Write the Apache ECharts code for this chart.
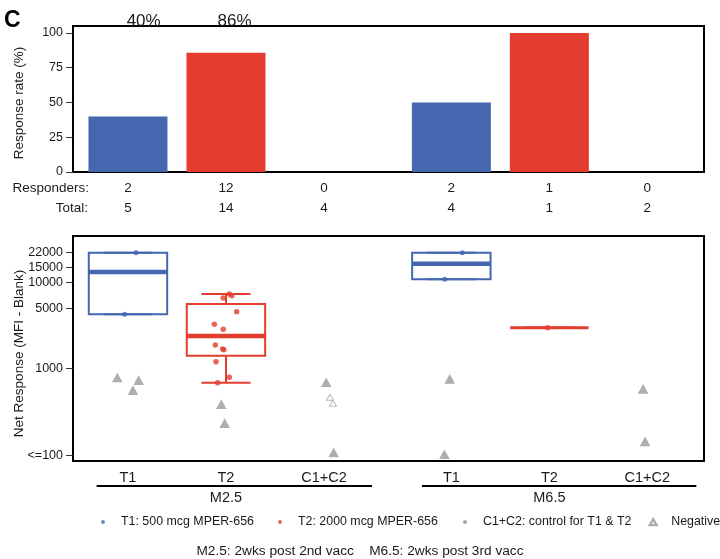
<!DOCTYPE html>
<html><head><meta charset="utf-8">
<script src="https://cdn.jsdelivr.net/npm/echarts@6/dist/echarts.min.js"></script>
<style>html,body{margin:0;padding:0;background:#fff}#c{width:720px;height:559px}</style>
</head><body><div id="c"></div>
<script>
// ---------------- data ----------------
const categories = ['T1', 'T2', 'C1+C2', 'T1', 'T2', 'C1+C2'];
const catPos = [1, 2, 3, 4.3, 5.3, 6.3];
const groupNames = ['M2.5', 'M6.5'];
const groupPos = [2, 5.3];
const groupSpan = [[0.68, 3.49], [4.0, 6.8]];
const responders = [2, 12, 0, 2, 1, 0];
const totals = [5, 14, 4, 4, 1, 2];
const pctLabels = ['40%', '86%'];
const pctPos = [1.16, 2.087];
const catColorKey = [0, 1, 2, 0, 1, 2];
const rateTicks = [0, 25, 50, 75, 100];
const mfiTicks = [100, 1000, 5000, 10000, 15000, 22000];
const mfiTickLabels = ['<=100', '1000', '5000', '10000', '15000', '22000'];
const mfiRange = [85.5, 34360];
// box stats: min, q1, median, q3, max
const boxX = [1, 2, 4.3, 5.3];
const boxStats = [
  [4265, 4265, 13130, 22000, 22000],
  [690, 1414, 2390, 5610, 7330],
  [10840, 10840, 16420, 22000, 22000],
  [2980, 2980, 2980, 2980, 2980]
];
const boxColorKey = [0, 1, 0, 1];
const t1Points = [[1.082, 22000], [0.966, 4265], [4.412, 22000], [4.232, 10840]];
const t2Points = [[2.034, 7330], [2.060, 7000], [1.972, 6600], [2.109, 4570], [1.881, 3265],
  [1.972, 2860], [1.891, 1880], [1.966, 1690], [1.978, 1660], [1.898, 1205], [2.034, 795],
  [1.915, 690], [5.283, 2980]];
const negPoints = [[0.891, 774], [1.109, 721], [1.051, 552], [1.952, 380], [1.987, 229],
  [3.023, 682], [3.099, 105], [4.283, 746], [4.229, 100], [6.256, 571], [6.277, 141]];
const negOpenPoints = [[3.061, 467], [3.092, 398]];
const legendNames = ['T1: 500 mcg MPER-656', 'T2: 2000 mcg MPER-656', 'C1+C2: control for T1 & T2', 'Negative'];
const captionText = 'M2.5: 2wks post 2nd vacc    M6.5: 2wks post 3rd vacc';

// ---------------- styles ----------------
const COLORS = ['#4467B0', '#E23D2E', '#8c8c8c'];
const GREY = '#9a9a9a';
const FONT = 'Liberation Sans, Arial, Helvetica, sans-serif';
const TXT = '#1a1a1a';
const X_MIN = 0.439, X_MAX = 6.878;
const lg = Math.log10;
const near = (arr, v) => arr.findIndex(p => Math.abs(p - v) < 1e-6);
const yMinL = lg(mfiRange[0]), yMaxL = lg(mfiRange[1]);
const legendLeft = [99, 276, 461, 648];

const chart = echarts.init(document.getElementById('c'), null, {renderer: 'canvas'});

const baseX = (grid) => ({
  type: 'value', gridIndex: grid, min: X_MIN, max: X_MAX,
  axisLine: {show: false, onZero: false}, axisTick: {show: false}, splitLine: {show: false}
});

const option = {
  backgroundColor: '#fff',
  animation: false,
  textStyle: {fontFamily: FONT, color: TXT},
  title: [
    {text: 'C', left: 4, top: 9, padding: 0,
      textStyle: {fontFamily: FONT, fontSize: 23, fontWeight: 'bold', color: '#000'}},
    {text: captionText, left: 'center', top: 544, padding: 0,
      textStyle: {fontFamily: FONT, fontSize: 13.7, fontWeight: 'normal', color: TXT}}
  ],
  legend: legendNames.map((n, i) => ({
    data: [{
      name: n,
      icon: i < 3 ? 'path://M0,0M10,10M5,2.5L6.8,3.2L7.5,5L6.8,6.8L5,7.5L3.2,6.8L2.5,5L3.2,3.2Z'
                  : 'path://M0,0M10,10M5,1.5L9.2,8.8L0.8,8.8Z',
      itemStyle: i < 3 ? {color: COLORS[i], borderWidth: 0}
                       : {color: '#fff', borderColor: GREY, borderWidth: 2.4}
    }],
    left: legendLeft[i], top: 516, padding: 0,
    itemWidth: 26, itemHeight: 8,
    selectedMode: false,
    textStyle: {fontFamily: FONT, fontSize: 12.4, color: TXT}
  })),
  grid: [
    {left: 73, top: 26, width: 631, height: 146, show: true, borderColor: '#000', borderWidth: 2,
      containLabel: false, outerBoundsMode: 'none'},
    {left: 73, top: 236, width: 631, height: 225, show: true, borderColor: '#000', borderWidth: 2,
      containLabel: false, outerBoundsMode: 'none'}
  ],
  xAxis: [
    // 0: responders row
    Object.assign(baseX(0), {
      position: 'bottom', offset: 16,
      axisLabel: {customValues: catPos, margin: 0, verticalAlign: 'middle', fontSize: 13.5, color: TXT, fontFamily: FONT,
        formatter: v => String(responders[near(catPos, v)])},
      name: 'Responders:', nameLocation: 'start', nameGap: -16, nameMoveOverlap: false,
      nameTextStyle: {fontSize: 13.5, color: TXT, fontFamily: FONT, align: 'right', verticalAlign: 'middle'}
    }),
    // 1: totals row
    Object.assign(baseX(0), {
      position: 'bottom', offset: 36,
      axisLabel: {customValues: catPos, margin: 0, verticalAlign: 'middle', fontSize: 13.5, color: TXT, fontFamily: FONT,
        formatter: v => String(totals[near(catPos, v)])},
      name: 'Total:', nameLocation: 'start', nameGap: -15, nameMoveOverlap: false,
      nameTextStyle: {fontSize: 13.5, color: TXT, fontFamily: FONT, align: 'right', verticalAlign: 'middle'}
    }),
    // 2: percent labels on top
    Object.assign(baseX(0), {
      position: 'top',
      axisLabel: {customValues: pctPos, margin: -4, verticalAlign: 'bottom', fontSize: 17, color: TXT, fontFamily: FONT,
        formatter: v => pctLabels[near(pctPos, v)]}
    }),
    // 3: category labels bottom panel
    Object.assign(baseX(1), {
      position: 'bottom',
      axisLabel: {customValues: catPos, margin: 17, verticalAlign: 'middle', fontSize: 14.5, color: TXT, fontFamily: FONT,
        formatter: v => categories[near(catPos, v)]}
    }),
    // 4: group labels
    Object.assign(baseX(1), {
      position: 'bottom',
      axisLabel: {customValues: groupPos, margin: 37, verticalAlign: 'middle', fontSize: 14.5, color: TXT, fontFamily: FONT,
        formatter: v => groupNames[near(groupPos, v)]}
    })
  ],
  yAxis: [
    {
      type: 'value', gridIndex: 0, min: 0, max: 105,
      axisLine: {show: false, onZero: false},
      axisTick: {show: true, customValues: rateTicks, length: 7, lineStyle: {color: '#333', width: 1}},
      axisLabel: {customValues: rateTicks, margin: 10, fontSize: 12.5, color: TXT, fontFamily: FONT},
      splitLine: {show: false},
      name: 'Response rate (%)', nameLocation: 'middle', nameGap: 47, nameMoveOverlap: false,
      nameTextStyle: {fontSize: 13.5, color: TXT, fontFamily: FONT, padding: [0, 8, 0, 0]}
    },
    {
      type: 'value', gridIndex: 1, min: yMinL, max: yMaxL,
      axisLine: {show: false, onZero: false},
      axisTick: {show: true, customValues: mfiTicks.map(lg), length: 7, lineStyle: {color: '#333', width: 1}},
      axisLabel: {customValues: mfiTicks.map(lg), margin: 10, fontSize: 12.5, color: TXT, fontFamily: FONT,
        formatter: v => mfiTickLabels[near(mfiTicks.map(lg), v)]},
      splitLine: {show: false},
      name: 'Net Response (MFI - Blank)', nameLocation: 'middle', nameGap: 47, nameMoveOverlap: false,
      nameTextStyle: {fontSize: 13.5, color: TXT, fontFamily: FONT, padding: [0, 10, 0, 0]}
    }
  ],
  series: [
    {
      type: 'bar', xAxisIndex: 0, yAxisIndex: 0, barWidth: 79,
      data: catPos.map((x, i) => ({
        value: [x, totals[i] ? responders[i] / totals[i] * 100 : 0],
        itemStyle: {color: COLORS[catColorKey[i]]}
      }))
    },
    {
      type: 'custom', xAxisIndex: 4, yAxisIndex: 1, z: 1,
      encode: {x: [0, 1], y: 2},
      data: groupSpan.map(s => [s[0], s[1], yMinL]),
      renderItem: (params, api) => {
        const a = api.coord([api.value(0), api.value(2)]);
        const b = api.coord([api.value(1), api.value(2)]);
        const y = a[1] + 25;
        return {type: 'line', shape: {x1: a[0], y1: y, x2: b[0], y2: y}, style: {stroke: '#000', lineWidth: 2}};
      }
    },
    {
      type: 'custom', xAxisIndex: 3, yAxisIndex: 1, z: 2,
      encode: {x: 0, y: [1, 2, 3, 4, 5]},
      data: boxX.map((x, i) => [x].concat(boxStats[i].map(lg)).concat([boxColorKey[i]])),
      renderItem: (params, api) => {
        const x = api.value(0);
        const v = [1, 2, 3, 4, 5].map(k => api.value(k));
        const col = COLORS[api.value(6)];
        const ys = v.map(t => api.coord([x, t])[1]);
        const L = api.coord([x - 0.4, v[2]])[0], R = api.coord([x + 0.4, v[2]])[0];
        const cL = api.coord([x - 0.25, v[2]])[0], cR = api.coord([x + 0.25, v[2]])[0];
        const cx = api.coord([x, v[2]])[0];
        const st = {stroke: col, lineWidth: 2, fill: null};
        const medW = v[3] > v[1] ? 4.5 : 2.8;
        return {type: 'group', children: [
          {type: 'line', shape: {x1: cx, y1: ys[0], x2: cx, y2: ys[1]}, style: st},
          {type: 'line', shape: {x1: cx, y1: ys[3], x2: cx, y2: ys[4]}, style: st},
          {type: 'line', shape: {x1: cL, y1: ys[0], x2: cR, y2: ys[0]}, style: st},
          {type: 'line', shape: {x1: cL, y1: ys[4], x2: cR, y2: ys[4]}, style: st},
          {type: 'rect', shape: {x: L, y: ys[3], width: R - L, height: ys[1] - ys[3]},
            style: {stroke: col, lineWidth: v[3] > v[1] ? 2 : 0, fill: 'none'}},
          {type: 'line', shape: {x1: L, y1: ys[2], x2: R, y2: ys[2]}, style: {stroke: col, lineWidth: medW}}
        ]};
      }
    },
    {
      name: legendNames[0], type: 'scatter', xAxisIndex: 3, yAxisIndex: 1, z: 3,
      symbol: 'circle', symbolSize: 5, itemStyle: {color: COLORS[0]},
      data: t1Points.map(p => [p[0], lg(p[1])])
    },
    {
      name: legendNames[1], type: 'scatter', xAxisIndex: 3, yAxisIndex: 1, z: 3,
      symbol: 'circle', symbolSize: 5.5, itemStyle: {color: COLORS[1]},
      data: t2Points.map(p => [p[0], lg(p[1])])
    },
    {
      name: legendNames[2], type: 'scatter', xAxisIndex: 3, yAxisIndex: 1, z: 3,
      symbol: 'circle', symbolSize: 5, itemStyle: {color: COLORS[2]},
      data: []
    },
    {
      name: legendNames[3], type: 'scatter', xAxisIndex: 3, yAxisIndex: 1, z: 3,
      symbol: 'triangle', symbolSize: [5.5, 5],
      itemStyle: {color: '#fff', borderColor: GREY, borderWidth: 3},
      data: negPoints.map(p => [p[0], lg(p[1])])
    },
    {
      type: 'scatter', xAxisIndex: 3, yAxisIndex: 1, z: 3,
      symbol: 'triangle', symbolSize: [7, 6],
      itemStyle: {color: '#fff', borderColor: '#aaaaaa', borderWidth: 1},
      data: negOpenPoints.map(p => [p[0], lg(p[1])])
    }
  ]
};
chart.setOption(option);
</script>
</body></html>
